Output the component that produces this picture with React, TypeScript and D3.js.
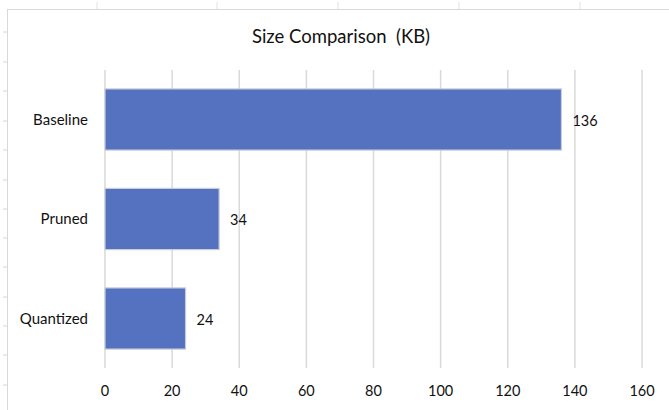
import React from "react";
import * as d3 from "d3";

const categories: string[] = ["Baseline", "Pruned", "Quantized"];
const values: number[] = [136, 34, 24];
const xTicks: number[] = [0, 20, 40, 60, 80, 100, 120, 140, 160];
const title = "Size Comparison  (KB)";
const rowMarks: number[] = [32, 62, 91, 121, 150, 180, 209, 238, 267, 297, 326, 355, 385];
const colMarks: number[] = [97, 217, 338, 459, 580];

const W = 669;
const H = 410;
const FONT = "Lato, 'Open Sans', sans-serif";

export default function App() {
  const x = d3.scaleLinear().domain([0, 160]).range([105, 642]);
  const y = d3.scaleBand<string>().domain(categories).range([70, 368]).paddingInner(0.385).paddingOuter(0.19);
  const gridTop = 70;
  const gridBottom = 368;

  return (
    <svg
      width={W}
      height={H}
      viewBox={`0 0 ${W} ${H}`}
      style={{ position: "absolute", left: 0, top: 0, background: "#fff" }}
    >
      {rowMarks.map((m) => (
        <line key={"r" + m} x1={3} x2={7} y1={m} y2={m} stroke="#d6d6d6" strokeWidth={1} />
      ))}
      {colMarks.map((m) => (
        <line key={"c" + m} x1={m} x2={m} y1={2} y2={9} stroke="#e0e0e0" strokeWidth={1} />
      ))}
      <line x1={7.5} x2={7.5} y1={9} y2={H} stroke="#d9d9d9" strokeWidth={1} />
      <line x1={7} x2={W} y1={9.5} y2={9.5} stroke="#d9d9d9" strokeWidth={1.2} />

      <text
        x={341}
        y={43}
        textAnchor="middle"
        fontFamily={FONT}
        fontSize={18.5}
        fill="#111"
        style={{ whiteSpace: "pre" }}
      >
        {title}
      </text>

      {xTicks.map((t) => (
        <g key={t}>
          <line x1={x(t)} x2={x(t)} y1={gridTop} y2={gridBottom} stroke="#d9d9d9" strokeWidth={1.5} />
          <text x={x(t)} y={396} textAnchor="middle" fontFamily={FONT} fontSize={14.5} fill="#111">
            {t}
          </text>
        </g>
      ))}

      {categories.map((c, i) => {
        const yy = y(c)!;
        const bw = y.bandwidth();
        return (
          <g key={c}>
            <rect
              x={x(0)}
              y={yy}
              width={x(values[i]) - x(0)}
              height={bw}
              fill="#5472c0"
              stroke="#c9cdd8"
              strokeWidth={1.2}
            />
            <text
              x={88}
              y={yy + bw / 2}
              dy="0.35em"
              textAnchor="end"
              fontFamily={FONT}
              fontSize={15}
              fill="#111"
            >
              {c}
            </text>
            <text
              x={x(values[i]) + 11}
              y={yy + bw / 2 + 1}
              dy="0.35em"
              textAnchor="start"
              fontFamily={FONT}
              fontSize={14.5}
              fill="#111"
            >
              {values[i]}
            </text>
          </g>
        );
      })}
    </svg>
  );
}
